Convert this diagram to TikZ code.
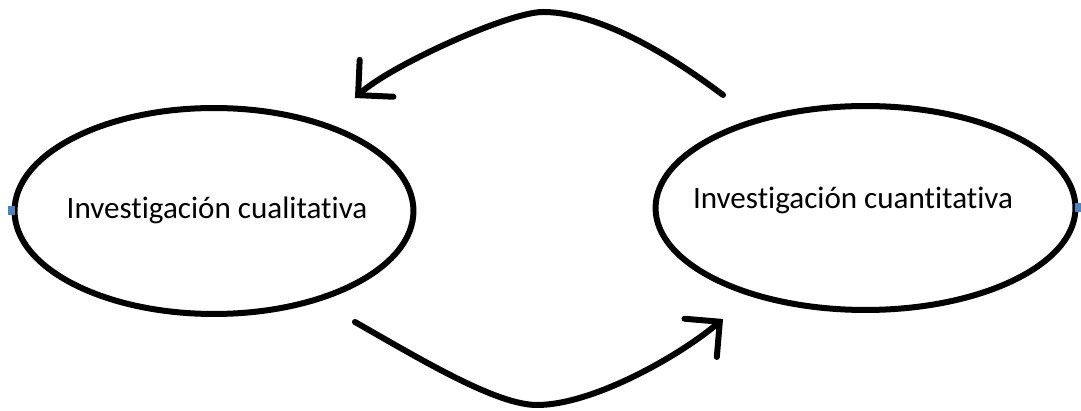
\documentclass[tikz,border=0pt]{standalone}
\usepackage{fontspec}
\setmainfont{Carlito}[Ligatures=NoCommon]
\usepackage{tikz}
\usetikzlibrary{shapes.geometric}
\usetikzlibrary{arrows.meta}
\usetikzlibrary{positioning}
\definecolor{handle}{RGB}{79,129,189}

\begin{document}
\begin{tikzpicture}[x=0.02cm, y=-0.02cm,
    method/.style={draw, ellipse, line width=0.12cm, inner sep=0pt},
    caption/.style={font=\fontsize{17.7}{21}\selectfont, inner sep=0pt},
    flow/.style={line width=0.12cm, line cap=round, line join=round, -{Straight Barb[length=0.5cm, width=1cm, line cap=round]}},
    handle/.style={fill=handle, minimum width=0.14cm, minimum height=0.18cm, inner sep=0pt}]
    \useasboundingbox (0,0) rectangle (1081,411);
    \node[method, minimum width=7.98cm, minimum height=4.12cm] (cuali) at (214,211) {};
    \node[method, minimum width=8.4cm, minimum height=4.08cm] (cuanti) at (865.5,208) {};
    \node[caption] (cuali-text) at (217,210) {Investigación cualitativa};
    \node[caption] (cuanti-text) at (853,200) {Investigación cuantitativa};
    \node[handle] (cuali-handle) at (cuali.west) {};
    \node[handle] (cuanti-handle) at (cuanti.east) {};
    \coordinate[above left=2.26cm and 2.85cm of cuanti.center] (top-start);
    \coordinate[above right=2.26cm and 2.82cm of cuali.center] (top-end);
    \coordinate[below right=2.22cm and 2.82cm of cuali.center] (bottom-start);
    \coordinate[below left=2.22cm and 2.85cm of cuanti.center] (bottom-end);
    \coordinate (top-peak) at (543,12);
    \coordinate (bottom-low) at (537,405);
    \draw[flow] (top-start) .. controls +(-73,-55) and +(45,0) .. (top-peak)
        .. controls +(-35,0) and +(35,-32) .. (top-end);
    \draw[flow] (bottom-start) .. controls +(70,40) and +(-40,0) .. (bottom-low)
        .. controls +(55,0) and +(-45,38) .. (bottom-end);
\end{tikzpicture}
\end{document}
